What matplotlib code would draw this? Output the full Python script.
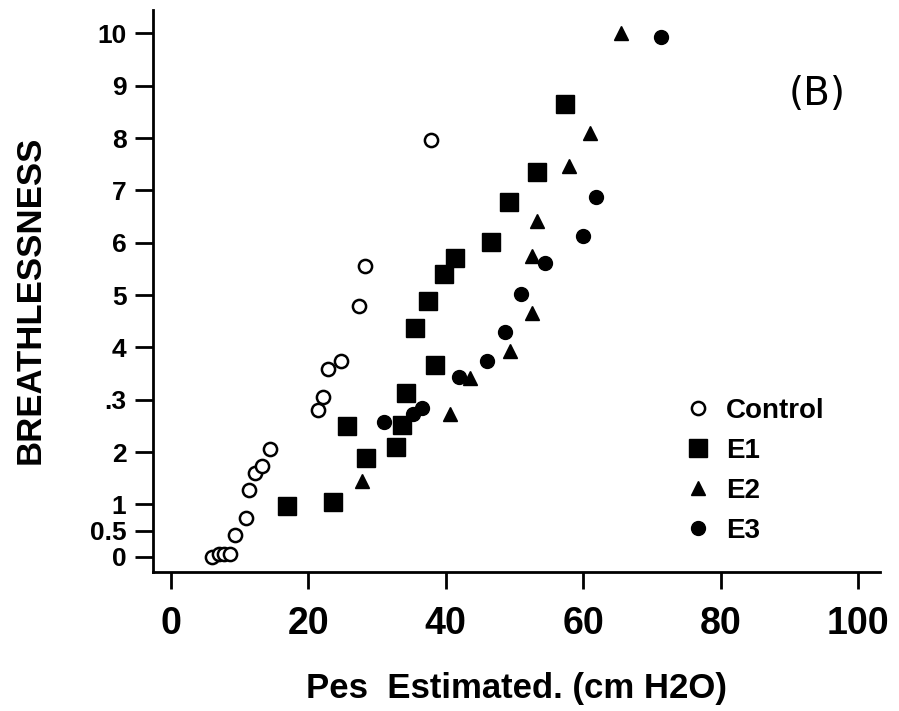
import matplotlib
matplotlib.use("Agg")
import matplotlib.pyplot as plt

# Control (open circles)
ctrl_x = [6.0, 7.0, 7.8, 8.6, 9.3, 10.9, 11.4, 12.2, 13.3, 14.5, 21.4, 22.1, 22.9, 24.8, 27.4, 28.2, 37.8]
ctrl_y = [0.0, 0.05, 0.06, 0.06, 0.42, 0.73, 1.28, 1.6, 1.73, 2.06, 2.8, 3.05, 3.59, 3.74, 4.8, 5.56, 7.96]

# E1 (filled squares)
e1_x = [16.9, 23.6, 25.6, 28.4, 32.8, 33.6, 34.2, 38.4, 35.6, 37.5, 39.7, 41.3, 46.6, 49.2, 53.3, 57.3]
e1_y = [0.96, 1.05, 2.5, 1.88, 2.1, 2.51, 3.12, 3.66, 4.37, 4.89, 5.4, 5.71, 6.01, 6.78, 7.35, 8.66]

# E2 (filled triangles)
e2_x = [27.8, 40.7, 43.6, 49.4, 52.5, 52.6, 53.3, 58.0, 61.0, 65.5]
e2_y = [1.44, 2.73, 3.41, 3.93, 4.66, 5.75, 6.42, 7.46, 8.10, 10.0]

# E3 (filled circles)
e3_x = [31.0, 35.3, 36.6, 41.9, 46.0, 48.6, 50.9, 54.4, 60.0, 61.9, 71.3]
e3_y = [2.57, 2.72, 2.85, 3.43, 3.74, 4.3, 5.03, 5.61, 6.12, 6.88, 9.94]

xticks = [0, 20, 40, 60, 80, 100]
yticks = [0, 0.5, 1, 2, 3, 4, 5, 6, 7, 8, 9, 10]
ytick_labels = ['0', '0.5', '1', '2', '.3', '4', '5', '6', '7', '8', '9', '10']

plt.rcParams['font.family'] = ['Liberation Sans', 'DejaVu Sans']

fig = plt.figure(figsize=(8.99, 7.11), dpi=100)
ax = fig.add_axes([0.170, 0.195, 0.809, 0.791])

ax.plot(ctrl_x, ctrl_y, 'o', mfc='white', mec='black', mew=1.8, ms=9.5, label='Control')
ax.plot(e1_x, e1_y, 's', color='black', ms=12.5, label='E1')
ax.plot(e2_x, e2_y, '^', color='black', ms=10, label='E2')
ax.plot(e3_x, e3_y, 'o', color='black', ms=10, label='E3')

ax.set_xlim(-2.6, 103.2)
ax.set_ylim(-0.3, 10.45)
ax.spines['top'].set_visible(False)
ax.spines['right'].set_visible(False)
for s in ['left', 'bottom']:
    ax.spines[s].set_linewidth(2)

ax.set_xticks(xticks)
ax.set_xticklabels([str(t) for t in xticks], fontsize=27, fontweight='bold')
ax.set_yticks(yticks)
ax.set_yticklabels(ytick_labels, fontsize=19, fontweight='bold')
ax.tick_params(axis='x', length=12, width=2, pad=12)
ax.tick_params(axis='y', length=13, width=2, pad=6)

leg = ax.legend(loc='upper left', bbox_to_anchor=(0.712, 0.335), frameon=False,
                prop={'weight': 'bold', 'size': 20}, handletextpad=0.5,
                labelspacing=0.5, handlelength=1.0, borderpad=0)

ax.text(0.913, 0.851, '(B)', transform=ax.transAxes, fontsize=28,
        family='DejaVu Sans', ha='center', va='center')

fig.text(0.033, 0.579, 'BREATHLESSNESS', rotation=90, fontsize=25,
         fontweight='bold', ha='center', va='center')
fig.text(0.574, 0.031, 'Pes  Estimated. (cm H2O)', fontsize=25,
         fontweight='bold', ha='center', va='center')

fig.savefig('out.png', dpi=100)
